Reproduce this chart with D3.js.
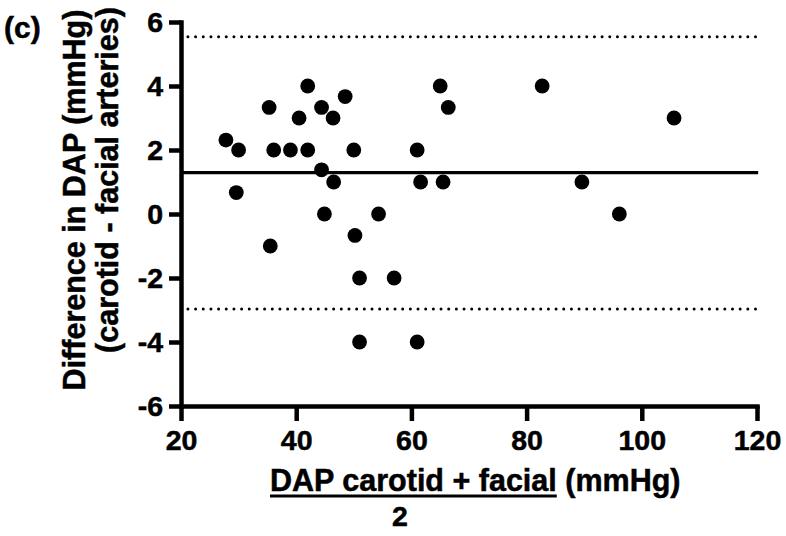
<!DOCTYPE html>
<html>
<head>
<meta charset="utf-8">
<script src="https://cdn.jsdelivr.net/npm/d3@7"></script>
<style>
  html, body { margin: 0; padding: 0; background: #fff; }
  svg { display: block; }
  text { font-family: "Liberation Sans", Arial, sans-serif; font-weight: bold; fill: #000; stroke: #000; stroke-width: 0.5px; }
</style>
</head>
<body>
<svg id="chart" width="786" height="536"></svg>
<script>
// ---- data ----
const meanValues = [27.8, 30.0, 29.6, 35.3, 36.1, 39.0, 42.0, 42.0, 40.5, 44.4, 46.4, 48.5,
                    44.4, 46.5, 44.9, 50.0, 54.3, 50.2, 61.0, 61.6, 65.5, 65.0, 66.4,
                    82.7, 105.6, 89.6, 96.1, 35.5, 51.0, 57.0, 51.0, 61.0];
const diffValues = [2.31, 2.0, 0.67, 3.33, 2.0, 2.0, 2.0, 4.0, 3.0, 3.33, 3.0, 3.67,
                    1.38, 1.0, 0.0, 2.0, 0.0, -0.67, 2.0, 1.0, 1.0, 4.0, 3.33,
                    4.0, 3.0, 1.0, 0.0, -1.0, -2.0, -2.0, -4.0, -4.0];
const bias = 1.29;
const upperLimit = 5.54;
const lowerLimit = -2.97;
const xTicks = [20, 40, 60, 80, 100, 120];
const yTicks = [-6, -4, -2, 0, 2, 4, 6];
const panelLabel = "(c)";
const yTitle1 = "Difference in DAP (mmHg)";
const yTitle2 = "(carotid - facial arteries)";
const xTitleUnderlined = "DAP carotid + facial";
const xTitleRest = " (mmHg)";
const xTitleDenominator = "2";

// ---- drawing ----
const svg = d3.select("#chart");
const x = d3.scaleLinear().domain([20, 120]).range([181, 757]);
const y = d3.scaleLinear().domain([-6, 6]).range([406, 22]);

// limits of agreement (dotted)
svg.selectAll("line.loa").data([upperLimit, lowerLimit]).enter().append("line")
  .attr("class", "loa")
  .attr("x1", x(21.2)).attr("x2", x(119.9))
  .attr("y1", d => y(d)).attr("y2", d => y(d))
  .attr("stroke", "#000").attr("stroke-width", 3)
  .attr("stroke-linecap", "round")
  .attr("stroke-dasharray", "0,7.67");

// bias line
svg.append("line")
  .attr("x1", x(20.3)).attr("x2", x(120.2))
  .attr("y1", y(bias)).attr("y2", y(bias))
  .attr("stroke", "#000").attr("stroke-width", 3.2);

// points
svg.selectAll("circle.pt").data(meanValues.map((m, i) => [m, diffValues[i]])).enter()
  .append("circle").attr("class", "pt")
  .attr("cx", d => x(d[0])).attr("cy", d => y(d[1]))
  .attr("r", 7.4).attr("fill", "#000");

// axes
const fmt = d => String(d);
const xAxis = d3.axisBottom(x).tickValues(xTicks).tickSize(15).tickSizeOuter(0).tickPadding(9)
  .tickFormat(fmt);
const yAxis = d3.axisLeft(y).tickValues(yTicks).tickSize(12).tickSizeOuter(0).tickPadding(6)
  .tickFormat(fmt);

const gx = svg.append("g").attr("transform", `translate(0,${y(-6)})`).call(xAxis);
const gy = svg.append("g").attr("transform", `translate(${x(20)},0)`).call(yAxis);

[gx, gy].forEach(g => {
  g.select(".domain").attr("stroke", "#000").attr("stroke-width", 4.5).attr("stroke-linecap", "square");
  g.selectAll(".tick line").attr("stroke", "#000").attr("stroke-width", 4.5);
  g.selectAll(".tick text").attr("font-size", 28.5).attr("font-family", "Liberation Sans, Arial, sans-serif")
    .attr("font-weight", "bold").attr("fill", "#000");
});

// panel label
svg.append("text").attr("x", 4).attr("y", 38).attr("font-size", 30).text(panelLabel);

// y titles
svg.append("text").attr("transform", "translate(85,200) rotate(-90)")
  .attr("text-anchor", "middle").attr("font-size", 30.5).text(yTitle1);
svg.append("text").attr("transform", "translate(118,180) rotate(-90)")
  .attr("text-anchor", "middle").attr("font-size", 30.5).text(yTitle2);

// x title
const xt = svg.append("text").attr("x", 270).attr("y", 491).attr("font-size", 30.5);
const ts1 = xt.append("tspan").text(xTitleUnderlined);
xt.append("tspan").text(xTitleRest);
const w1 = ts1.node().getComputedTextLength();
svg.append("line").attr("x1", 270).attr("x2", 270 + w1)
  .attr("y1", 496).attr("y2", 496).attr("stroke", "#000").attr("stroke-width", 3);
svg.append("text").attr("x", 400).attr("y", 526).attr("text-anchor", "middle")
  .attr("font-size", 28.5).text(xTitleDenominator);
</script>
</body>
</html>
